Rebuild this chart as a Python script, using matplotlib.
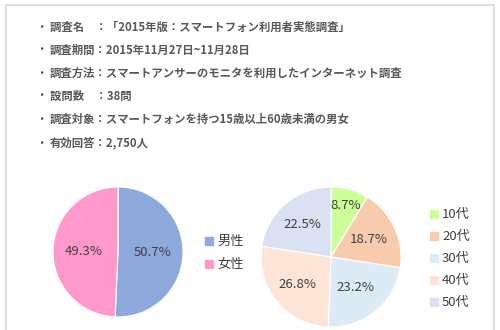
import numpy as np
import matplotlib.pyplot as plt
from matplotlib.patches import Rectangle

plt.rcParams['font.family'] = ['Noto Sans CJK JP', 'DejaVu Sans']

# survey outline lines
info_lines = [
    '調査名　：「2015年版：スマートフォン利用者実態調査」',
    '調査期間：2015年11月27日~11月28日',
    '調査方法：スマートアンサーのモニタを利用したインターネット調査',
    '設問数　：38問',
    '調査対象：スマートフォンを持つ15歳以上60歳未満の男女',
    '有効回答：2,750人',
]

# gender split
gender_labels = ['男性', '女性']
gender_share = [50.7, 49.3]
gender_colors = ['#8EA9DB', '#FF99CC']

# age split
age_labels = ['10代', '20代', '30代', '40代', '50代']
age_share = [8.7, 18.7, 23.2, 26.8, 22.5]
age_colors = ['#CCFF99', '#F8CBAD', '#DDEBF7', '#FCE4D6', '#D9E1F2']

W, H = 500, 330
fig = plt.figure(figsize=(W / 100, H / 100), dpi=100)
fig.patch.set_facecolor('white')

# frame around the whole block
fig.patches.append(Rectangle((6 / W, -0.1), 488 / W, 1.1 - 5 / H,
                             transform=fig.transFigure, fill=False,
                             edgecolor='#D9D9D9', linewidth=1.2))

text_color = '#595959'
line_y = [27, 50, 73, 96, 119, 143]
for y, line in zip(line_y, info_lines):
    fig.text(35 / W, 1 - y / H, '・', ha='left', va='center',
             fontsize=9, color=text_color)
    fig.text(50 / W, 1 - y / H, line, ha='left', va='center',
             fontsize=8.2, color=text_color, fontweight='bold')


def pie_axes(cx, cy, r):
    return fig.add_axes([(cx - r) / W, 1 - (cy + r) / H, 2 * r / W, 2 * r / H])


def draw_pie(ax, values, colors, label_dist):
    wedges, _, pcts = ax.pie(values, colors=colors, startangle=90,
                             counterclock=False, radius=1, autopct='%1.1f%%',
                             wedgeprops=dict(edgecolor='white', linewidth=0.8),
                             textprops=dict(fontsize=9.5, color='#404040'))
    # pie() pads the limits to 1.25, so fit the circle to the axes afterwards
    ax.set_xlim(-1, 1)
    ax.set_ylim(-1, 1)
    ax.set_aspect('equal')
    ax.axis('off')
    # move each percentage label to its own radius
    for w, t, d in zip(wedges, pcts, label_dist):
        mid = np.deg2rad((w.theta1 + w.theta2) / 2)
        t.set_position((d * np.cos(mid), d * np.sin(mid)))


ax1 = pie_axes(118, 252, 65)
draw_pie(ax1, gender_share, gender_colors, [0.53, 0.52])

ax2 = pie_axes(331, 257, 70)
draw_pie(ax2, age_share, age_colors, [0.77, 0.6, 0.56, 0.62, 0.62])

# legends
for i, (lab, col) in enumerate(zip(gender_labels, gender_colors)):
    y = 241 + i * 23
    fig.patches.append(Rectangle((205 / W, 1 - (y + 4) / H), 8 / W, 8 / H,
                                 transform=fig.transFigure, color=col))
    fig.text(217 / W, 1 - y / H, lab, ha='left', va='center',
             fontsize=9.5, color='#404040')

for i, (lab, col) in enumerate(zip(age_labels, age_colors)):
    y = 214 + i * 22
    fig.patches.append(Rectangle((430 / W, 1 - (y + 4) / H), 8 / W, 8 / H,
                                 transform=fig.transFigure, color=col))
    fig.text(442 / W, 1 - y / H, lab, ha='left', va='center',
             fontsize=9.5, color='#404040')

fig.savefig('out.png', dpi=100)
